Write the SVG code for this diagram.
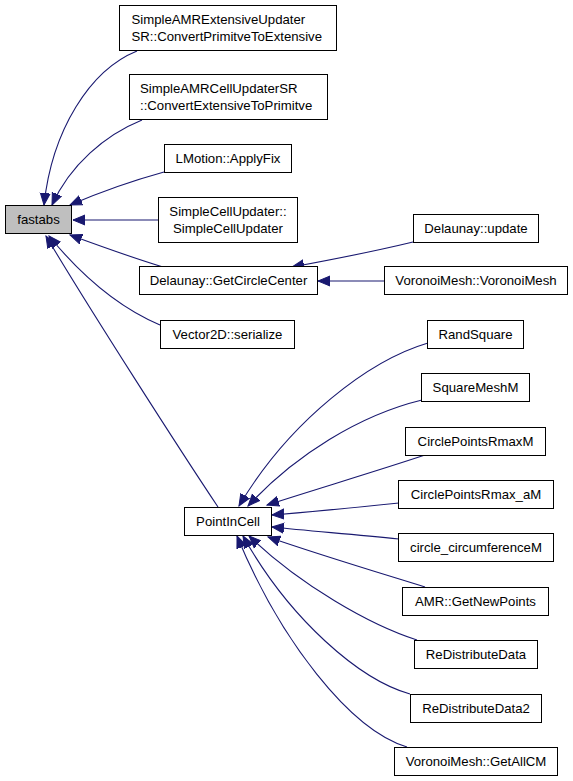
<svg xmlns="http://www.w3.org/2000/svg" width="573" height="781" viewBox="0 0 573 781">
<style>
.n rect{fill:#fff;stroke:#000;stroke-width:1}
.n text{font-family:"Liberation Sans",Arial,sans-serif;font-size:13.2px;fill:#000;text-anchor:middle}
.n text.l{text-anchor:start}
.e path{fill:none;stroke:#191970;stroke-width:1.1;marker-end:url(#ah)}
</style>
<defs>
<marker id="ah" markerUnits="userSpaceOnUse" markerWidth="14" markerHeight="12" refX="12" refY="5" orient="auto" viewBox="0 0 14 10">
<path d="M0,0 L12,5 L0,10 Z" fill="#191970" stroke="#191970"/>
</marker>
</defs>
<rect width="573" height="781" fill="#fff"/>
<g id="edges" class="e">
<path d="M137,51 C90,70 52,130 44,205"/>
<path d="M142,120 C105,135 70,165 52,205"/>
<path d="M164,172 C135,180 105,190 70,205"/>
<path d="M158,220 L73,220"/>
<path d="M163,267 C130,257 100,246 70,235"/>
<path d="M160,325 C120,308 85,280 49,236"/>
<path d="M218,507 C180,450 90,310 46,236"/>
<path d="M413,242 C380,250 330,260 292,267"/>
<path d="M385,281 L318,281"/>
<path d="M428,343 C370,360 290,420 239,506"/>
<path d="M422,400 C360,415 295,455 248,506"/>
<path d="M425,455 C380,470 320,488 267,505"/>
<path d="M399,503 C350,508 310,512 272,515"/>
<path d="M399,539 C350,534 310,531 272,527"/>
<path d="M425,587 C380,573 320,555 268,537"/>
<path d="M417,640 C370,625 300,585 249,536"/>
<path d="M410,694 C360,680 290,620 243,536"/>
<path d="M407,747 C350,730 280,640 237,536"/>
</g>
<g id="fastabs" class="n"><rect x="5.5" y="205.5" width="66" height="28" style="fill:#bfbfbf"/><text x="38.5" y="224">fastabs</text></g>
<g id="SimpleAMRExtensiveUpdaterSR" class="n"><rect x="119.5" y="5.5" width="217" height="45"/><text class="l" x="131.5" y="23.5">SimpleAMRExtensiveUpdater</text><text class="l" x="131.5" y="40.5">SR::ConvertPrimitveToExtensive</text></g>
<g id="SimpleAMRCellUpdaterSR" class="n"><rect x="129.5" y="74.5" width="198" height="45"/><text class="l" x="140" y="92.5">SimpleAMRCellUpdaterSR</text><text class="l" x="140" y="109.5">::ConvertExtensiveToPrimitve</text></g>
<g id="LMotion" class="n"><rect x="164.5" y="144.5" width="127" height="28"/><text x="228" y="163">LMotion::ApplyFix</text></g>
<g id="SimpleCellUpdater" class="n"><rect x="158.5" y="197.5" width="139" height="45"/><text x="228" y="215.5">SimpleCellUpdater::</text><text x="228" y="232.5">SimpleCellUpdater</text></g>
<g id="GetCircleCenter" class="n"><rect x="139.5" y="266.5" width="178" height="28"/><text x="228.5" y="285">Delaunay::GetCircleCenter</text></g>
<g id="DelaunayUpdate" class="n"><rect x="413.5" y="214.5" width="125" height="28"/><text x="476" y="233">Delaunay::update</text></g>
<g id="VoronoiMesh" class="n"><rect x="384.5" y="266.5" width="183" height="28"/><text x="476" y="285">VoronoiMesh::VoronoiMesh</text></g>
<g id="Vector2D" class="n"><rect x="160.5" y="320.5" width="134" height="28"/><text x="227.5" y="339">Vector2D::serialize</text></g>
<g id="RandSquare" class="n"><rect x="427.5" y="320.5" width="96" height="28"/><text x="475.5" y="339">RandSquare</text></g>
<g id="SquareMeshM" class="n"><rect x="421.5" y="373.5" width="108" height="28"/><text x="475.5" y="392">SquareMeshM</text></g>
<g id="CirclePointsRmaxM" class="n"><rect x="405.5" y="427.5" width="140" height="28"/><text x="475.5" y="446">CirclePointsRmaxM</text></g>
<g id="CirclePointsRmax_aM" class="n"><rect x="398.5" y="480.5" width="155" height="28"/><text x="476" y="499">CirclePointsRmax_aM</text></g>
<g id="circle_circumferenceM" class="n"><rect x="398.5" y="533.5" width="155" height="28"/><text x="476" y="552">circle_circumferenceM</text></g>
<g id="AMRGetNewPoints" class="n"><rect x="402.5" y="587.5" width="146" height="28"/><text x="475.5" y="606">AMR::GetNewPoints</text></g>
<g id="ReDistributeData" class="n"><rect x="414.5" y="640.5" width="123" height="28"/><text x="476" y="659">ReDistributeData</text></g>
<g id="ReDistributeData2" class="n"><rect x="410.5" y="694.5" width="131" height="28"/><text x="476" y="713">ReDistributeData2</text></g>
<g id="GetAllCM" class="n"><rect x="394.5" y="747.5" width="163" height="28"/><text x="476" y="766">VoronoiMesh::GetAllCM</text></g>
<g id="PointInCell" class="n"><rect x="184.5" y="507.5" width="87" height="28"/><text x="228" y="526">PointInCell</text></g>
</svg>
